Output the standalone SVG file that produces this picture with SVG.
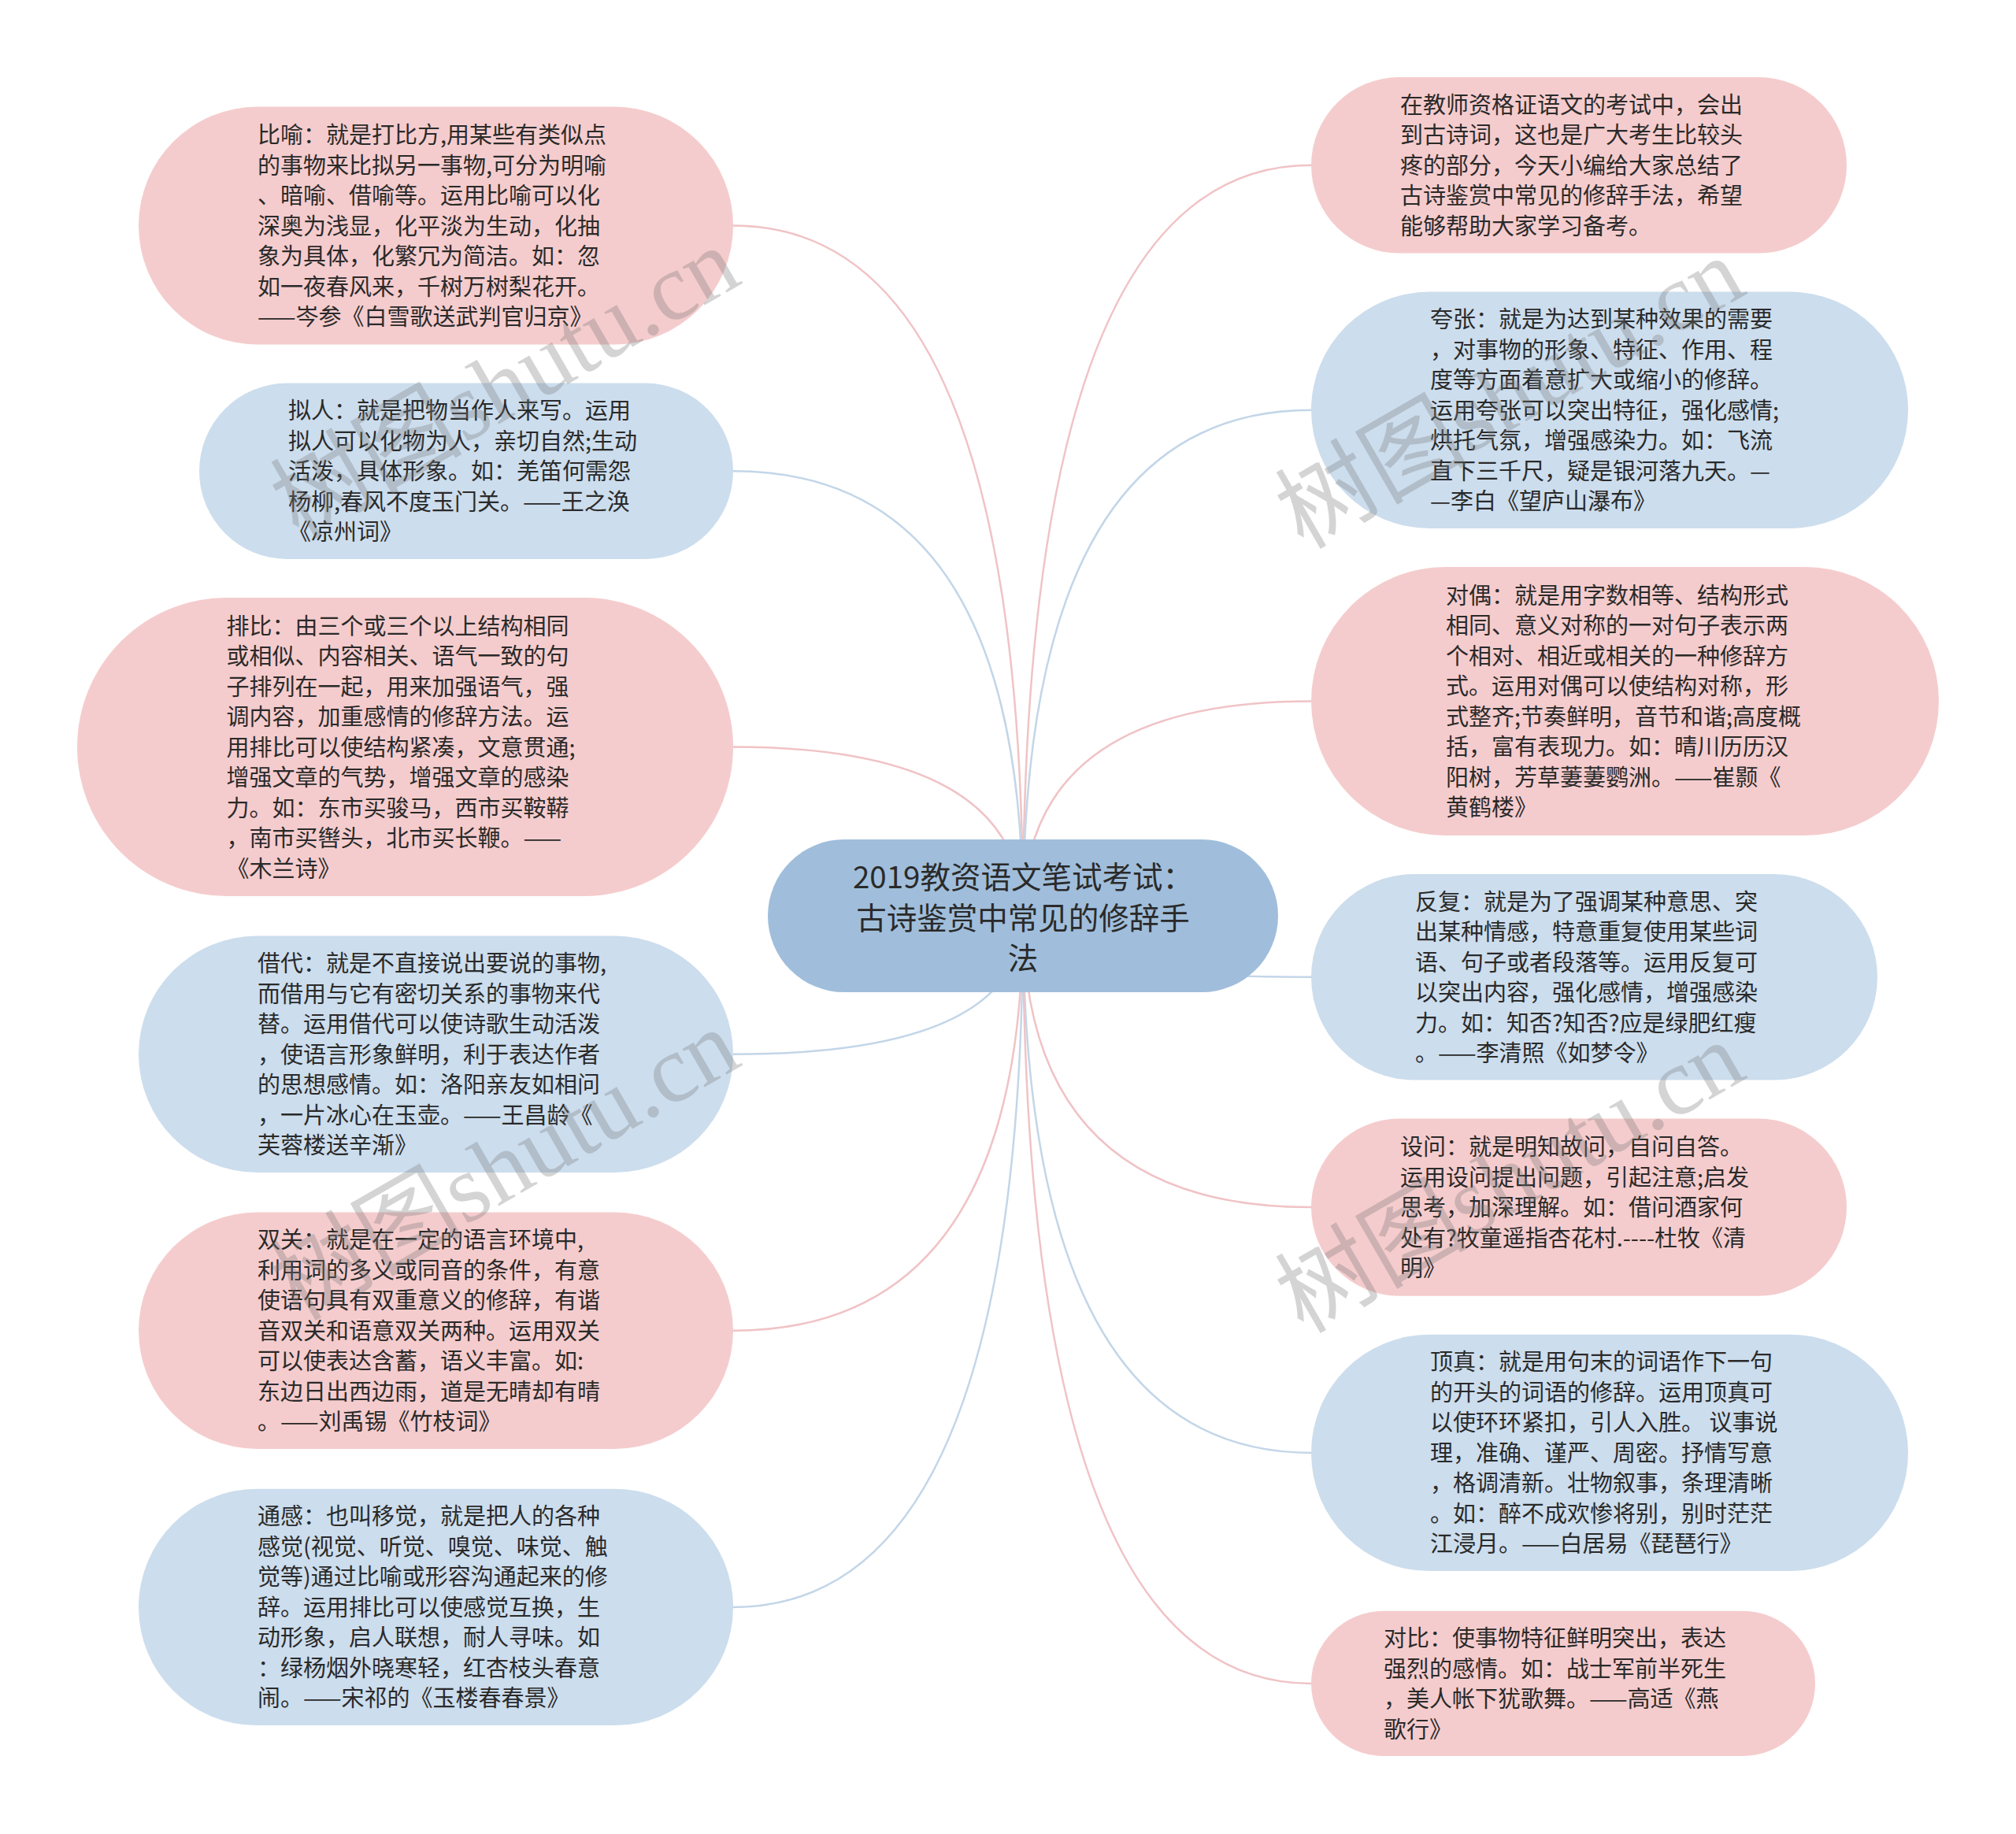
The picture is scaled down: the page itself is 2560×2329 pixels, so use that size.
<svg xmlns="http://www.w3.org/2000/svg" width="2560" height="2329" viewBox="0 0 2560 2329">
<style>
.bg{fill:#ffffff}
.pink{fill:#f5cccd}
.blue{fill:#ccdded}
.root{fill:#a0bedb}
.t{font-family:"Noto Sans CJK SC","Noto Sans",sans-serif;font-size:29px;fill:#2a2a2a}
.rt{font-family:"Noto Sans CJK SC","Noto Sans",sans-serif;font-size:38.5px;fill:#2a2a2a;text-anchor:middle}
.cp{fill:none;stroke:#f0c3c6;stroke-width:2.5}
.cb{fill:none;stroke:#c3d6e8;stroke-width:2.5}
.wm{font-family:"Liberation Serif","Noto Sans CJK SC",serif;font-size:122px;fill:#7a7a7a;fill-opacity:0.32;text-anchor:middle}
</style>
<rect class="bg" x="0" y="0" width="2560" height="2329"/>
<g id="connectors">
<path class="cp" d="M1299,1163 Q1299,286.5 931,286.5"/>
<path class="cb" d="M1299,1163 Q1299,598.25 931,598.25"/>
<path class="cp" d="M1299,1163 Q1299,948.5 931,948.5"/>
<path class="cb" d="M1299,1163 Q1299,1338.8 931,1338.8"/>
<path class="cp" d="M1299,1163 Q1299,1689.8 931,1689.8"/>
<path class="cb" d="M1299,1163 Q1299,2040.9 931,2040.9"/>
<path class="cp" d="M1299,1163 Q1299,209.8 1665,209.8"/>
<path class="cb" d="M1299,1163 Q1299,520.8 1665,520.8"/>
<path class="cp" d="M1299,1163 Q1299,890.5 1665,890.5"/>
<path class="cb" d="M1299,1163 Q1299,1240.75 1665,1240.75"/>
<path class="cp" d="M1299,1163 Q1299,1533.1 1665,1533.1"/>
<path class="cb" d="M1299,1163 Q1299,1844.9 1665,1844.9"/>
<path class="cp" d="M1299,1163 Q1299,2137.9 1665,2137.9"/>
</g>
<g id="root">
<rect class="root" x="975" y="1066" width="648" height="194" rx="97"/>
<text class="rt"><tspan x="1299" y="1128">2019教资语文笔试考试：</tspan><tspan x="1299" y="1179.5">古诗鉴赏中常见的修辞手</tspan><tspan x="1299" y="1231">法</tspan></text>
</g>
<g id="n-biyu">
<rect class="pink" x="176" y="135.5" width="755" height="302" rx="151"/>
<text class="t"><tspan x="327" y="182">比喻：就是打比方,用某些有类似点</tspan><tspan x="327" dy="38.5">的事物来比拟另一事物,可分为明喻</tspan><tspan x="327" dy="38.5">、暗喻、借喻等。运用比喻可以化</tspan><tspan x="327" dy="38.5">深奥为浅显，化平淡为生动，化抽</tspan><tspan x="327" dy="38.5">象为具体，化繁冗为简洁。如：忽</tspan><tspan x="327" dy="38.5">如一夜春风来，千树万树梨花开。</tspan><tspan x="327" dy="38.5">——岑参《白雪歌送武判官归京》</tspan></text>
</g>
<g id="n-niren">
<rect class="blue" x="253" y="486.5" width="678" height="223.5" rx="111.75"/>
<text class="t"><tspan x="366" y="532.25">拟人：就是把物当作人来写。运用</tspan><tspan x="366" dy="38.5">拟人可以化物为人，亲切自然;生动</tspan><tspan x="366" dy="38.5">活泼，具体形象。如：羌笛何需怨</tspan><tspan x="366" dy="38.5">杨柳,春风不度玉门关。——王之涣</tspan><tspan x="366" dy="38.5">《凉州词》</tspan></text>
</g>
<g id="n-paibi">
<rect class="pink" x="98" y="759" width="833" height="379" rx="189.5"/>
<text class="t"><tspan x="287.5" y="805.5">排比：由三个或三个以上结构相同</tspan><tspan x="287.5" dy="38.5">或相似、内容相关、语气一致的句</tspan><tspan x="287.5" dy="38.5">子排列在一起，用来加强语气，强</tspan><tspan x="287.5" dy="38.5">调内容，加重感情的修辞方法。运</tspan><tspan x="287.5" dy="38.5">用排比可以使结构紧凑，文意贯通;</tspan><tspan x="287.5" dy="38.5">增强文章的气势，增强文章的感染</tspan><tspan x="287.5" dy="38.5">力。如：东市买骏马，西市买鞍鞯</tspan><tspan x="287.5" dy="38.5">，南市买辔头，北市买长鞭。——</tspan><tspan x="287.5" dy="38.5">《木兰诗》</tspan></text>
</g>
<g id="n-jiedai">
<rect class="blue" x="176" y="1188.6" width="755" height="300.4" rx="150.2"/>
<text class="t"><tspan x="327" y="1234.3">借代：就是不直接说出要说的事物,</tspan><tspan x="327" dy="38.5">而借用与它有密切关系的事物来代</tspan><tspan x="327" dy="38.5">替。运用借代可以使诗歌生动活泼</tspan><tspan x="327" dy="38.5">，使语言形象鲜明，利于表达作者</tspan><tspan x="327" dy="38.5">的思想感情。如：洛阳亲友如相问</tspan><tspan x="327" dy="38.5">，一片冰心在玉壶。——王昌龄《</tspan><tspan x="327" dy="38.5">芙蓉楼送辛渐》</tspan></text>
</g>
<g id="n-shuangguan">
<rect class="pink" x="176" y="1539.6" width="755" height="300.4" rx="150.2"/>
<text class="t"><tspan x="327" y="1585.3">双关：就是在一定的语言环境中,</tspan><tspan x="327" dy="38.5">利用词的多义或同音的条件，有意</tspan><tspan x="327" dy="38.5">使语句具有双重意义的修辞，有谐</tspan><tspan x="327" dy="38.5">音双关和语意双关两种。运用双关</tspan><tspan x="327" dy="38.5">可以使表达含蓄，语义丰富。如:</tspan><tspan x="327" dy="38.5">东边日出西边雨，道是无晴却有晴</tspan><tspan x="327" dy="38.5">。——刘禹锡《竹枝词》</tspan></text>
</g>
<g id="n-tonggan">
<rect class="blue" x="176" y="1890.7" width="755" height="300.4" rx="150.2"/>
<text class="t"><tspan x="327" y="1936.4">通感：也叫移觉，就是把人的各种</tspan><tspan x="327" dy="38.5">感觉(视觉、听觉、嗅觉、味觉、触</tspan><tspan x="327" dy="38.5">觉等)通过比喻或形容沟通起来的修</tspan><tspan x="327" dy="38.5">辞。运用排比可以使感觉互换，生</tspan><tspan x="327" dy="38.5">动形象，启人联想，耐人寻味。如</tspan><tspan x="327" dy="38.5">：绿杨烟外晓寒轻，红杏枝头春意</tspan><tspan x="327" dy="38.5">闹。——宋祁的《玉楼春春景》</tspan></text>
</g>
<g id="n-intro">
<rect class="pink" x="1665" y="98" width="680" height="223.6" rx="111.8"/>
<text class="t"><tspan x="1778" y="143.8">在教师资格证语文的考试中，会出</tspan><tspan x="1778" dy="38.5">到古诗词，这也是广大考生比较头</tspan><tspan x="1778" dy="38.5">疼的部分，今天小编给大家总结了</tspan><tspan x="1778" dy="38.5">古诗鉴赏中常见的修辞手法，希望</tspan><tspan x="1778" dy="38.5">能够帮助大家学习备考。</tspan></text>
</g>
<g id="n-kuazhang">
<rect class="blue" x="1665" y="370.6" width="758" height="300.4" rx="150.2"/>
<text class="t"><tspan x="1816" y="416.3">夸张：就是为达到某种效果的需要</tspan><tspan x="1816" dy="38.5">，对事物的形象、特征、作用、程</tspan><tspan x="1816" dy="38.5">度等方面着意扩大或缩小的修辞。</tspan><tspan x="1816" dy="38.5">运用夸张可以突出特征，强化感情;</tspan><tspan x="1816" dy="38.5">烘托气氛，增强感染力。如：飞流</tspan><tspan x="1816" dy="38.5">直下三千尺，疑是银河落九天。—</tspan><tspan x="1816" dy="38.5">—李白《望庐山瀑布》</tspan></text>
</g>
<g id="n-duiou">
<rect class="pink" x="1665" y="720" width="797" height="341" rx="170.5"/>
<text class="t"><tspan x="1836" y="766.75">对偶：就是用字数相等、结构形式</tspan><tspan x="1836" dy="38.5">相同、意义对称的一对句子表示两</tspan><tspan x="1836" dy="38.5">个相对、相近或相关的一种修辞方</tspan><tspan x="1836" dy="38.5">式。运用对偶可以使结构对称，形</tspan><tspan x="1836" dy="38.5">式整齐;节奏鲜明，音节和谐;高度概</tspan><tspan x="1836" dy="38.5">括，富有表现力。如：晴川历历汉</tspan><tspan x="1836" dy="38.5">阳树，芳草萋萋鹦洲。——崔颢《</tspan><tspan x="1836" dy="38.5">黄鹤楼》</tspan></text>
</g>
<g id="n-fanfu">
<rect class="blue" x="1665" y="1110" width="719" height="261.5" rx="130.75"/>
<text class="t"><tspan x="1797" y="1155.5">反复：就是为了强调某种意思、突</tspan><tspan x="1797" dy="38.5">出某种情感，特意重复使用某些词</tspan><tspan x="1797" dy="38.5">语、句子或者段落等。运用反复可</tspan><tspan x="1797" dy="38.5">以突出内容，强化感情，增强感染</tspan><tspan x="1797" dy="38.5">力。如：知否?知否?应是绿肥红瘦</tspan><tspan x="1797" dy="38.5">。——李清照《如梦令》</tspan></text>
</g>
<g id="n-shewen">
<rect class="pink" x="1665" y="1420.4" width="680" height="225.4" rx="112.7"/>
<text class="t"><tspan x="1778" y="1467.1">设问：就是明知故问，自问自答。</tspan><tspan x="1778" dy="38.5">运用设问提出问题，引起注意;启发</tspan><tspan x="1778" dy="38.5">思考，加深理解。如：借问酒家何</tspan><tspan x="1778" dy="38.5">处有?牧童遥指杏花村.----杜牧《清</tspan><tspan x="1778" dy="38.5">明》</tspan></text>
</g>
<g id="n-dingzhen">
<rect class="blue" x="1665" y="1694.7" width="758" height="300.4" rx="150.2"/>
<text class="t"><tspan x="1816" y="1740.4">顶真：就是用句末的词语作下一句</tspan><tspan x="1816" dy="38.5">的开头的词语的修辞。运用顶真可</tspan><tspan x="1816" dy="38.5">以使环环紧扣，引人入胜。 议事说</tspan><tspan x="1816" dy="38.5">理，准确、谨严、周密。抒情写意</tspan><tspan x="1816" dy="38.5">，格调清新。壮物叙事，条理清晰</tspan><tspan x="1816" dy="38.5">。如：醉不成欢惨将别，别时茫茫</tspan><tspan x="1816" dy="38.5">江浸月。——白居易《琵琶行》</tspan></text>
</g>
<g id="n-duibi">
<rect class="pink" x="1665" y="2045.8" width="640" height="184.2" rx="92.1"/>
<text class="t"><tspan x="1757" y="2091.15">对比：使事物特征鲜明突出，表达</tspan><tspan x="1757" dy="38.5">强烈的感情。如：战士军前半死生</tspan><tspan x="1757" dy="38.5">，美人帐下犹歌舞。——高适《燕</tspan><tspan x="1757" dy="38.5">歌行》</tspan></text>
</g>
<g id="watermarks">
<text class="wm" transform="translate(662,522) rotate(-30)">树图shutu.cn</text>
<text class="wm" transform="translate(662,1515) rotate(-30)">树图shutu.cn</text>
<text class="wm" transform="translate(1938,535) rotate(-30)">树图shutu.cn</text>
<text class="wm" transform="translate(1938,1531) rotate(-30)">树图shutu.cn</text>
</g>
</svg>
